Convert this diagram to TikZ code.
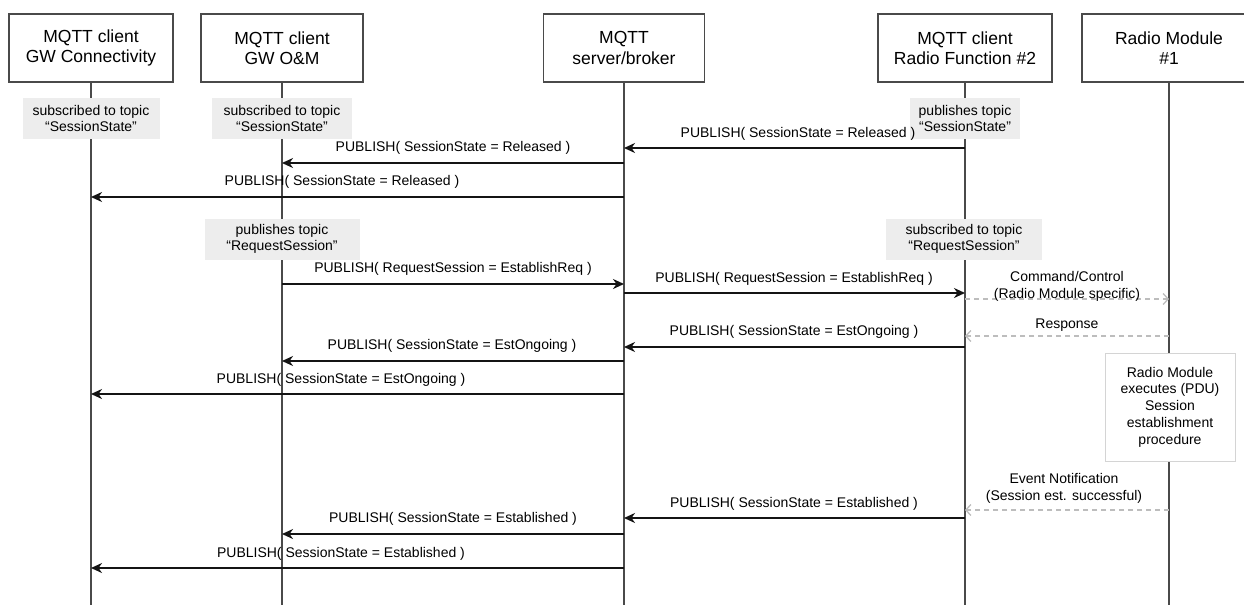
\documentclass[tikz,border=0pt]{standalone}
\usepackage{fontspec}
\setmainfont{Liberation Sans}
\usetikzlibrary{arrows.meta}

\definecolor{lifegray}{HTML}{4A4A4A}
\definecolor{notefill}{HTML}{EDEDED}
\definecolor{notebord}{HTML}{D4D4D4}
\definecolor{dashgray}{HTML}{BDBDBD}
\definecolor{msgblack}{HTML}{141414}

\tikzset{
  head/.style={draw=lifegray, line width=1.3pt, fill=white, minimum height=68pt,
    align=center, inner sep=0pt, font=\fontsize{17.5}{20.5}\selectfont},
  lifeline/.style={draw=lifegray, line width=1.1pt},
  topicnote/.style={fill=notefill, align=center, inner sep=0pt, minimum height=41pt,
    font=\fontsize{14}{16.5}\selectfont},
  procbox/.style={draw=notebord, line width=1pt, fill=white, align=center, inner sep=0pt,
    font=\fontsize{14}{16.8}\selectfont},
  msg/.style={draw=msgblack, line width=1.8pt, -{Stealth[length=11pt,width=10pt,inset=3.5pt]}},
  ctrl/.style={draw=dashgray, line width=1.3pt, dash pattern=on 5pt off 4pt,
    -{Straight Barb[length=5pt,width=11pt]}},
  msglabel/.style={inner sep=0pt, align=center, font=\fontsize{14}{17}\selectfont},
}

\begin{document}
\begin{tikzpicture}[x=1pt, y=-1pt]
  \useasboundingbox (0,0) rectangle (1244,605);
  \clip (0,0) rectangle (1244,605);
  \fill[white] (0,0) rectangle (1244,605);

  % participants
  \node[head, minimum width=164pt] (conn) at (91,48)   {MQTT client\\GW Connectivity};
  \node[head, minimum width=162pt] (om)   at (282,48)  {MQTT client\\GW O\&M};
  \node[head, minimum width=161pt] (brk)  at (624,48)  {MQTT\\server/broker};
  \node[head, minimum width=174pt] (rf)   at (965,48)  {MQTT client\\Radio Function \#2};
  \node[head, minimum width=174pt] (rm)   at (1169,48) {Radio Module\\\#1};

  % lifeline ends
  \coordinate (bottom) at (0,605);
  \foreach \p in {conn,om,brk,rf,rm}
    \draw[lifeline] (\p.south) -- (\p |- bottom);

  % topic notes on the lifelines
  \node[topicnote, minimum width=137pt] (nconn) at (91,118.5)  {subscribed to topic\\“SessionState”};
  \node[topicnote, minimum width=140pt] (nom)   at (282,118.5) {subscribed to topic\\“SessionState”};
  \node[topicnote, minimum width=110pt] (nrf)   at (965,118.5) {publishes topic\\“SessionState”};
  \node[topicnote, minimum width=155pt] (nreq)  at (282,239)   {publishes topic\\“RequestSession”};
  \node[topicnote, minimum width=156pt] (nsub)  at (964,239)   {subscribed to topic\\“RequestSession”};

  % radio module procedure
  \node[procbox, minimum width=130pt, minimum height=108pt] (proc) at (1170,407)
    {Radio Module\\executes (PDU)\\Session\\establishment\\procedure};

  % message rows
  \coordinate (r1) at (0,148);
  \coordinate (r2) at (0,163);
  \coordinate (r3) at (0,197);
  \coordinate (r4) at (0,284);
  \coordinate (r5) at (0,293);
  \coordinate (c1) at (0,299);
  \coordinate (c2) at (0,336);
  \coordinate (r6) at (0,347);
  \coordinate (r7) at (0,361);
  \coordinate (r8) at (0,394);
  \coordinate (c3) at (0,510);
  \coordinate (r9) at (0,518);
  \coordinate (r10) at (0,534);
  \coordinate (r11) at (0,568);

  % released state
  \draw[msg] (rf |- r1) -- (brk |- r1);
  \node[msglabel] (l1) at (798,134) {PUBLISH( SessionState = Released )};
  \draw[msg] (brk |- r2) -- (om |- r2);
  \node[msglabel] (l2) at (453,148) {PUBLISH( SessionState = Released )};
  \draw[msg] (brk |- r3) -- (conn |- r3);
  \node[msglabel] (l3) at (342,182) {PUBLISH( SessionState = Released )};

  % session request
  \draw[msg] (om |- r4) -- (brk |- r4);
  \node[msglabel] (l4) at (453,269) {PUBLISH( RequestSession = EstablishReq )};
  \draw[msg] (brk |- r5) -- (rf |- r5);
  \node[msglabel] (l5) at (794,279) {PUBLISH( RequestSession = EstablishReq )};

  \draw[ctrl] (rf |- c1) -- (rm |- c1);
  \node[msglabel] (lc1) at (1067,286) {Command/Control\\(Radio Module specific)};
  \draw[ctrl] (rm |- c2) -- (rf |- c2);
  \node[msglabel] (lc2) at (1067,325) {Response};

  % establishment ongoing
  \draw[msg] (rf |- r6) -- (brk |- r6);
  \node[msglabel] (l6) at (794,332) {PUBLISH( SessionState = EstOngoing )};
  \draw[msg] (brk |- r7) -- (om |- r7);
  \node[msglabel] (l7) at (452,346) {PUBLISH( SessionState = EstOngoing )};
  \draw[msg] (brk |- r8) -- (conn |- r8);
  \node[msglabel] (l8) at (341,380) {PUBLISH( SessionState = EstOngoing )};

  % established
  \draw[ctrl] (rm |- c3) -- (rf |- c3);
  \node[msglabel] (lc3) at (1064,488) {Event Notification\\(Session est. successful)};
  \draw[msg] (rf |- r9) -- (brk |- r9);
  \node[msglabel] (l9) at (794,504) {PUBLISH( SessionState = Established )};
  \draw[msg] (brk |- r10) -- (om |- r10);
  \node[msglabel] (l10) at (453,519) {PUBLISH( SessionState = Established )};
  \draw[msg] (brk |- r11) -- (conn |- r11);
  \node[msglabel] (l11) at (341,554) {PUBLISH( SessionState = Established )};
\end{tikzpicture}
\end{document}
